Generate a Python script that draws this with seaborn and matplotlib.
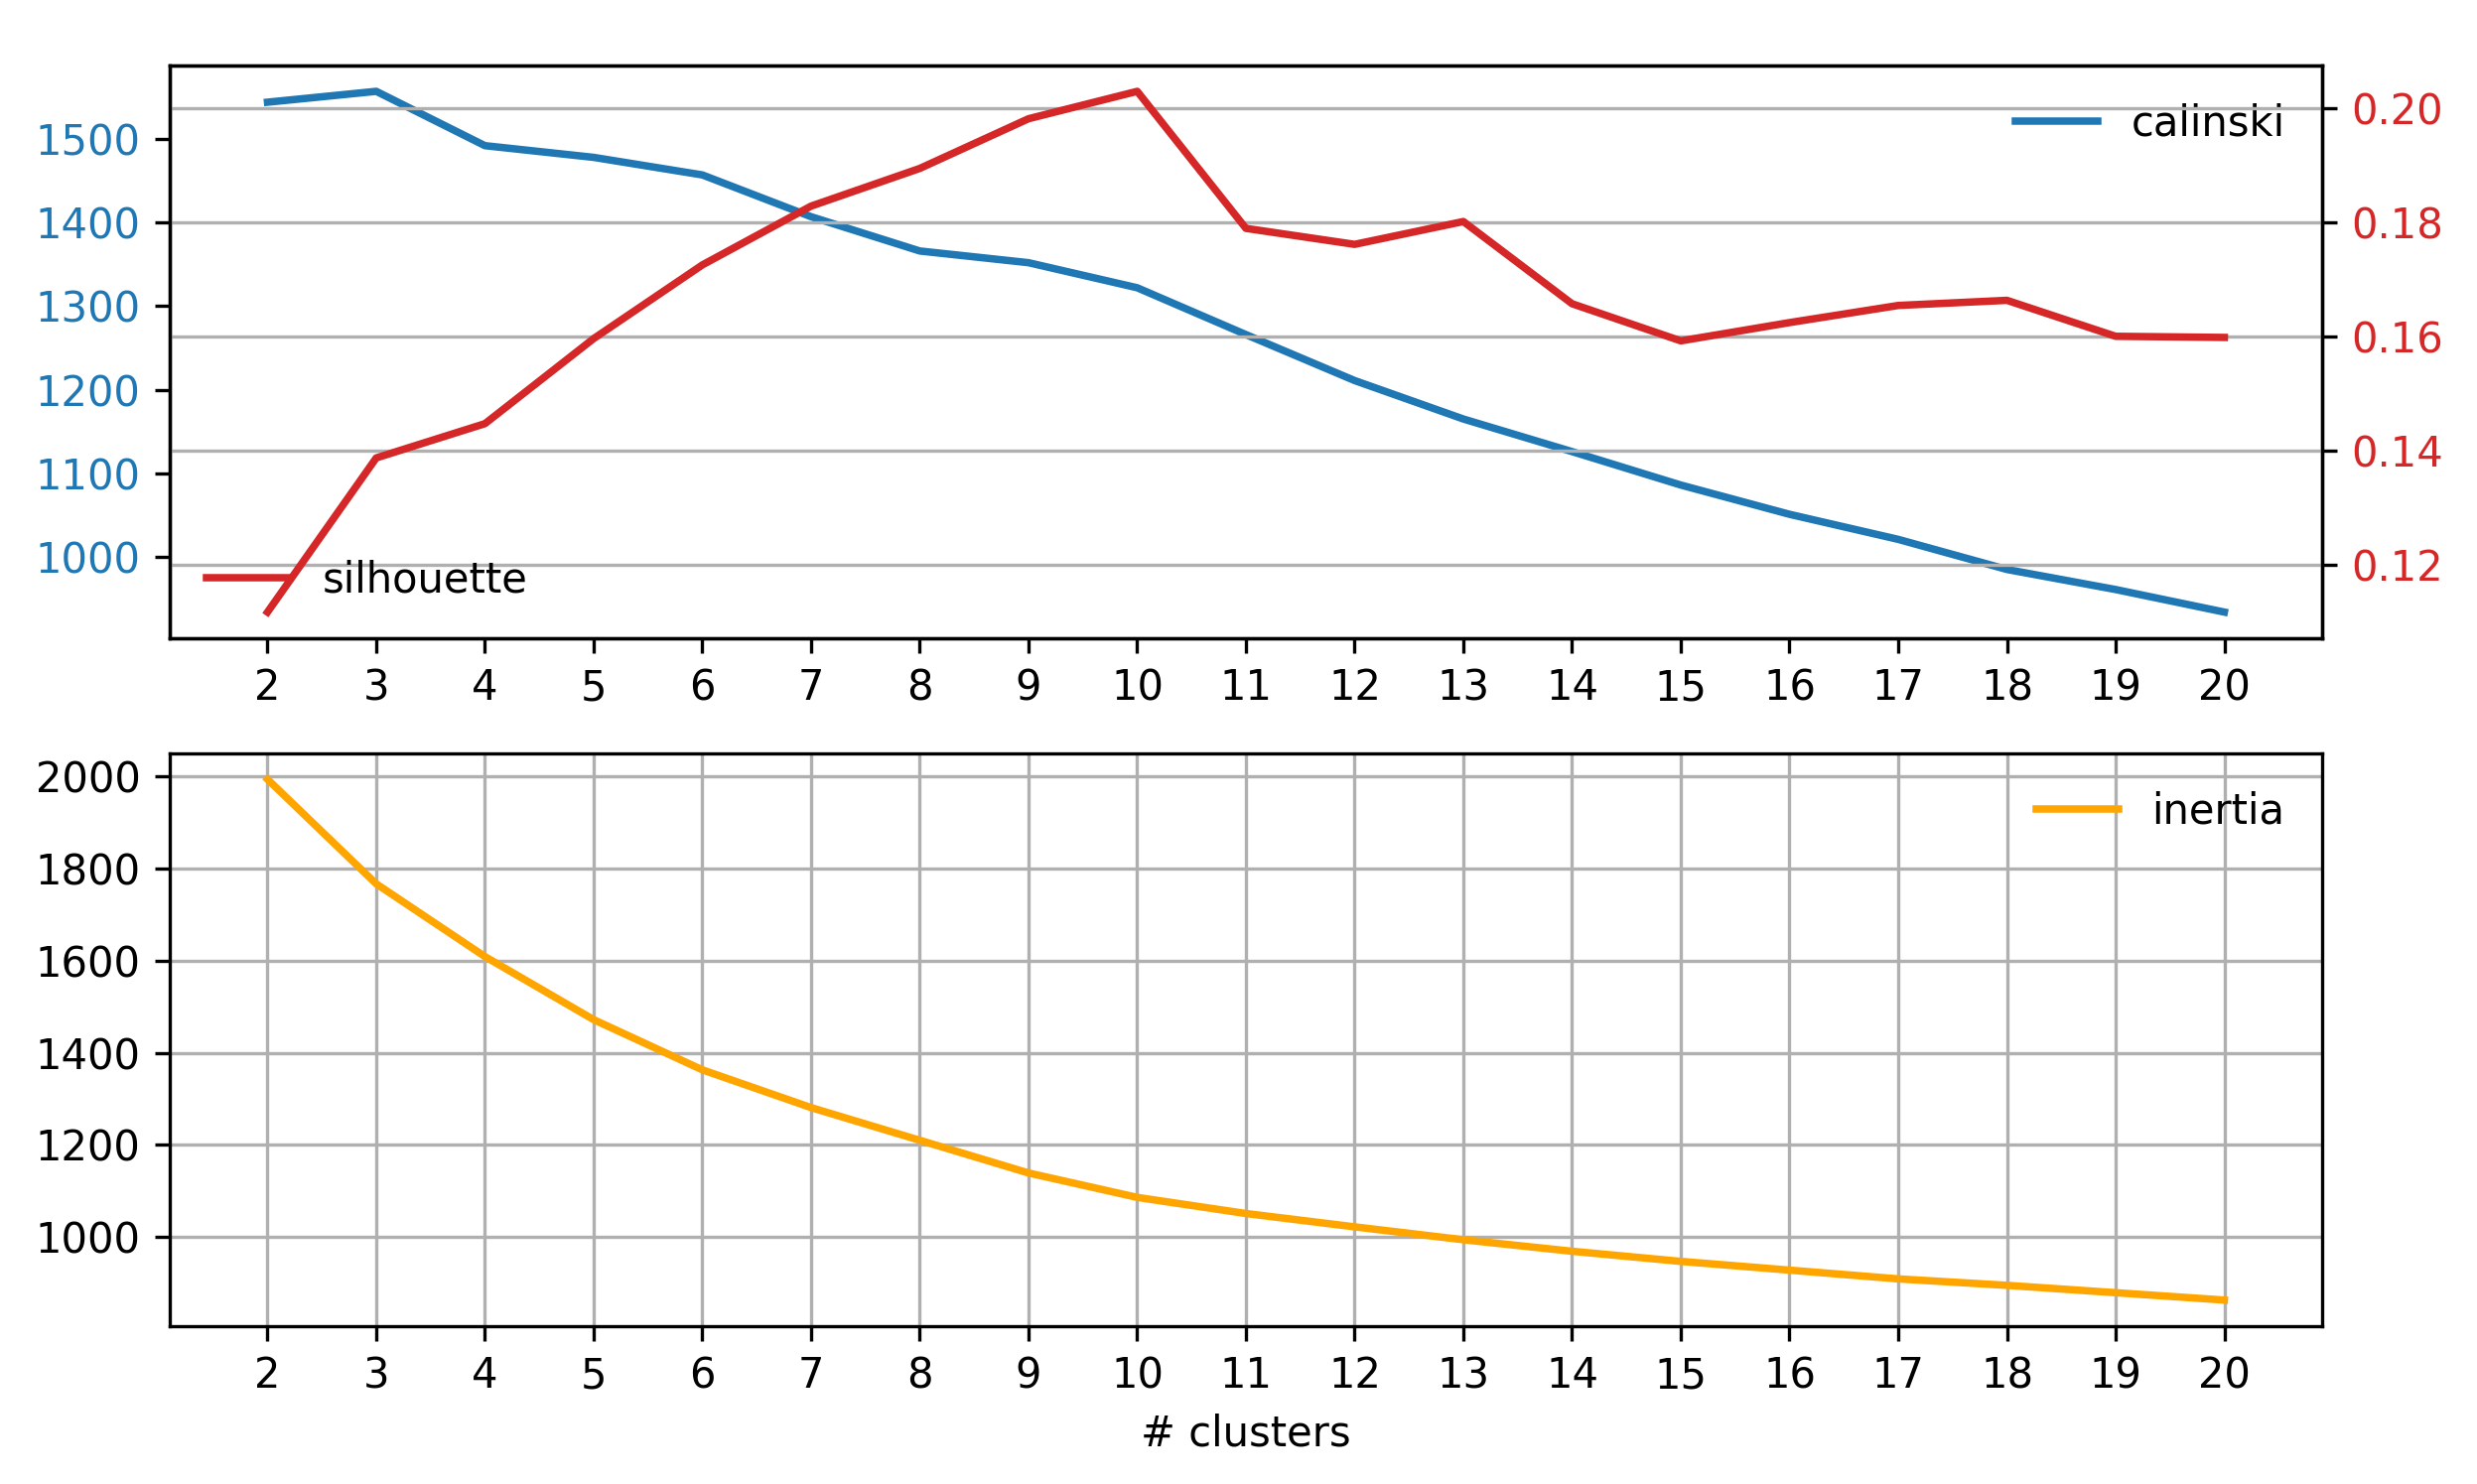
import numpy as np
import pandas as pd
import seaborn as sns
import matplotlib
matplotlib.use('Agg')
import matplotlib.pyplot as plt

# values
n_clusters = list(range(2, 21))
calinski = [1544, 1557, 1492, 1478, 1457, 1407, 1366, 1352, 1322, 1266,
            1211, 1165, 1126, 1086, 1051, 1021, 985, 961, 934]
silhouette = [0.1117, 0.1387, 0.1447, 0.1596, 0.1725, 0.1828, 0.1894, 0.1981, 0.2029, 0.1789,
              0.1761, 0.1801, 0.1657, 0.1592, 0.1624, 0.1654, 0.1663, 0.1600, 0.1598]
inertia = [1994, 1767, 1609, 1472, 1363, 1281, 1210, 1139, 1086, 1051,
           1022, 994, 969, 947, 928, 909, 895, 879, 863]

calinski_ticks = [1000, 1100, 1200, 1300, 1400, 1500]
silhouette_ticks = [0.12, 0.14, 0.16, 0.18, 0.20]
inertia_ticks = [1000, 1200, 1400, 1600, 1800, 2000]

df = pd.DataFrame({'k': n_clusters, 'calinski': calinski,
                   'silhouette': silhouette, 'inertia': inertia})

lw = 1.8
fig, (ax1, ax3) = plt.subplots(2, 1, figsize=(2495/300, 1495/300), dpi=300)
fig.subplots_adjust(left=0.0685, right=0.9375, top=0.956, bottom=0.1064, hspace=0.201)

# top: calinski (left) + silhouette (right)
sns.lineplot(x='k', y='calinski', data=df, ax=ax1, color='tab:blue', label='calinski', linewidth=lw)
ax1.tick_params(axis='y', labelcolor='tab:blue')
ax1.set_xlabel('')
ax1.set_ylabel('')
ax1.set_xticks(n_clusters)
ax1.set_yticks(calinski_ticks)
ax1.legend(loc='upper right', frameon=False)

ax2 = ax1.twinx()
sns.lineplot(x='k', y='silhouette', data=df, ax=ax2, color='tab:red', label='silhouette', linewidth=lw)
ax2.tick_params(axis='y', labelcolor='tab:red')
ax2.set_ylabel('')
ax2.set_yticks(silhouette_ticks)
ax2.grid(True, axis='y')
ax2.legend(loc='lower left', frameon=False)

# bottom: inertia
sns.lineplot(x='k', y='inertia', data=df, ax=ax3, color='orange', label='inertia', linewidth=lw)
ax3.set_xticks(n_clusters)
ax3.set_yticks(inertia_ticks)
ax3.set_ylabel('')
ax3.set_xlabel('# clusters')
ax3.grid(True)
ax3.legend(loc='upper right', frameon=False)

fig.savefig('out.png', dpi=300)
